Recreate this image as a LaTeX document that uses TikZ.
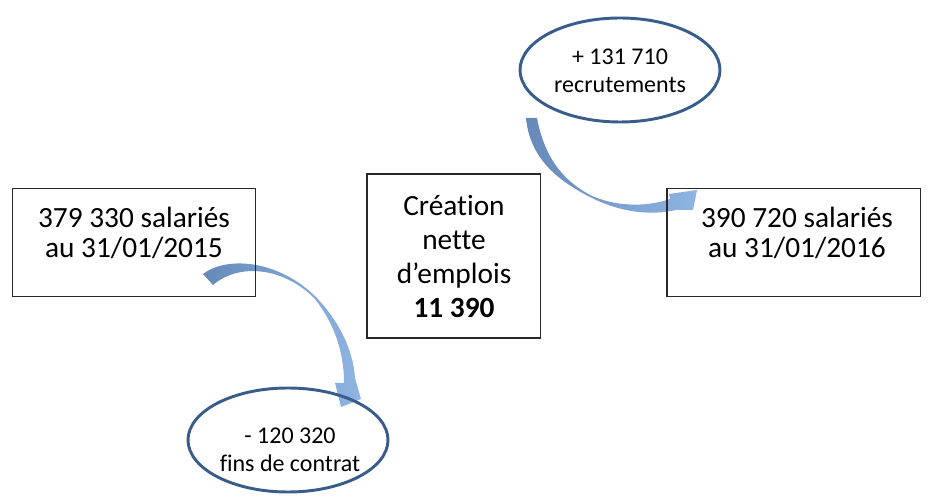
\documentclass[tikz,border=0pt]{standalone}
\usepackage{fontspec}
\setmainfont{Carlito}[Ligatures=NoCommon]
\usepackage{tikz}
\usetikzlibrary{shapes,arrows,positioning,fit,backgrounds}
\definecolor{ovalblue}{RGB}{56, 93, 138}
\definecolor{flowdark}{RGB}{102, 137, 184}
\definecolor{flowlight}{RGB}{143, 181, 228}
\definecolor{boxline}{RGB}{40, 40, 40}
\tikzstyle{stock} = [rectangle, draw=boxline, line width=1pt, minimum width=182pt, minimum height=81pt]
\tikzstyle{net} = [rectangle, draw=boxline, line width=1pt, minimum width=130pt, minimum height=123pt]
\tikzstyle{flow} = [ellipse, draw=ovalblue, line width=2.2pt, minimum width=150pt, minimum height=78pt, inner sep=0pt]
\tikzstyle{bigtext} = [align=center, font=\fontsize{22}{22.5}\selectfont, inner sep=0pt]
\tikzstyle{smalltext} = [align=center, font=\fontsize{18}{21}\selectfont, inner sep=0pt]
\tikzstyle{flowshade} = [left color=flowdark, right color=flowlight]

\begin{document}
\begin{tikzpicture}[x=0.75pt, y=-0.75pt]
\useasboundingbox (0,0) rectangle (928,498);

% stocks =============================
\node[stock] (debut) at (134,242.5) {};
\node[bigtext] (debuttxt) at (134,233) {379 330 salariés\\au 31/01/2015};

\node[stock, minimum width=190pt] (fin) at (793.5,242.5) {};
\node[bigtext] (fintxt) at (797,233) {390 720 salariés\\au 31/01/2016};

% net balance
\node[net] (solde) at (453.5,256) {};
\node[bigtext, font=\fontsize{22}{25.5}\selectfont] (soldetxt) at (454,257) {Création\\nette\\d’emplois\\\textbf{11 390}};

% flows =============================
\node[flow] (entrees) at (620,70) {};
\node[smalltext] (entreestxt) at (620,71) {+ 131 710\\recrutements};

\node[flow] (sorties) at (288,440) {};
\node[smalltext] (sortiestxt) at (290,450) {- 120 320\\fins de contrat};

% curved arrows
\begin{scope}[on background layer]
\coordinate (outtail) at (203,274);
\coordinate (outtip) at (341,407);
\shade[flowshade] (outtail) .. controls (225,257) and (275,258) .. (315,296)
  .. controls (340,322) and (353,350) .. (355,378)
  -- (361,399) -- (outtip) -- (335,383) -- (344,383)
  .. controls (344,350) and (333,322) .. (315,299)
  .. controls (285,268) and (240,262) .. (213,285) -- cycle;

\coordinate (intail) at (537,118);
\coordinate (intip) at (697,190);
\shade[flowshade] (intail) .. controls (545,160) and (565,182) .. (592,196)
  .. controls (620,208) and (650,206) .. (670,199)
  -- (669,194) -- (intip) -- (693,210) -- (676,210)
  .. controls (650,216) and (620,212) .. (592,198)
  .. controls (560,182) and (530,160) .. (526,118) -- cycle;
\end{scope}

\end{tikzpicture}
\end{document}
